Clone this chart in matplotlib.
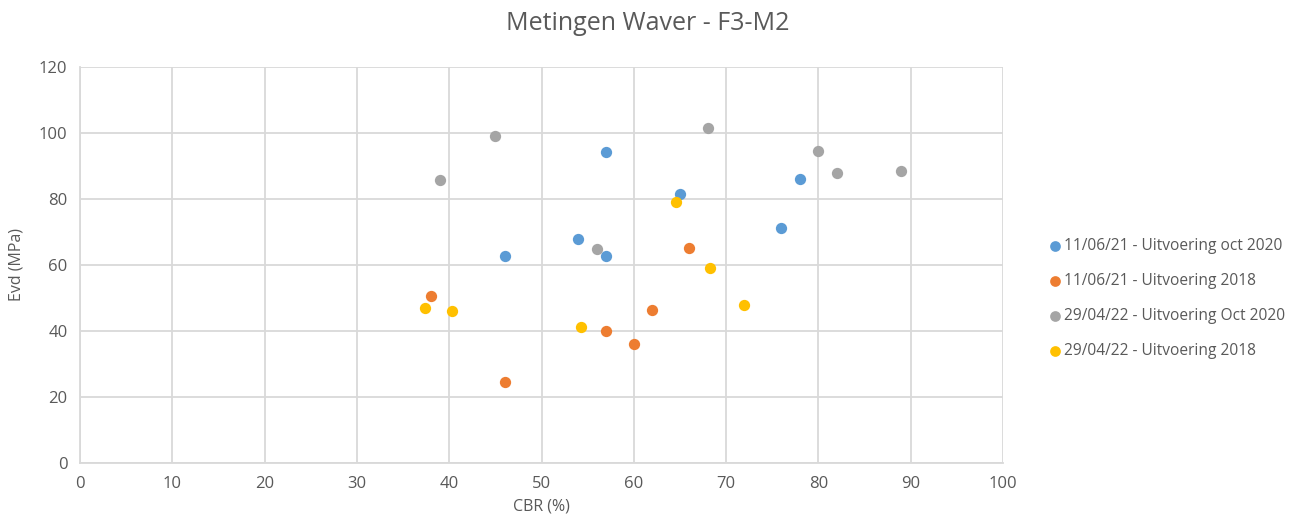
import matplotlib
matplotlib.use("Agg")
import matplotlib.pyplot as plt

plt.rcParams['font.family'] = ['Open Sans', 'DejaVu Sans']

title = "Metingen Waver - F3-M2"
xlabel = "CBR (%)"
ylabel = "Evd (MPa)"

series_names = [
    "11/06/21 - Uitvoering oct 2020",
    "11/06/21 - Uitvoering 2018",
    "29/04/22 - Uitvoering Oct 2020",
    "29/04/22 - Uitvoering 2018",
]
colors = ["#5B9BD5", "#ED7D31", "#A5A5A5", "#FFC000"]

blue_x = [57, 65, 78, 76, 54, 57, 46]
blue_y = [94.2, 81.5, 86.0, 71.1, 67.9, 62.7, 62.7]

orange_x = [38, 66, 62, 57, 60, 46]
orange_y = [50.6, 65.2, 46.4, 40.0, 36.1, 24.5]

gray_x = [45, 68, 39, 80, 82, 89, 56]
gray_y = [99.1, 101.5, 85.8, 94.4, 87.8, 88.4, 64.8]

yellow_x = [64.6, 68.3, 71.9, 37.4, 40.3, 54.3]
yellow_y = [79.1, 59.0, 47.9, 47.1, 46.1, 41.2]

xs = [blue_x, orange_x, gray_x, yellow_x]
ys = [blue_y, orange_y, gray_y, yellow_y]

xticks = list(range(0, 101, 10))
yticks = list(range(0, 121, 20))

fig = plt.figure(figsize=(13.11, 5.27), dpi=100)
ax = fig.add_axes([80/1311, 1 - 463/527, (1003 - 80)/1311, (463 - 67)/527])

for name, c, x, y in zip(series_names, colors, xs, ys):
    ax.scatter(x, y, s=66, color=c, label=name, zorder=3, linewidths=0)

ax.set_xlim(0, 100)
ax.set_ylim(0, 120)
ax.set_xticks(xticks)
ax.set_yticks(yticks)
ax.grid(True, color="#D9D9D9", linewidth=1.3)
ax.set_axisbelow(True)
for s in ["top", "right"]:
    ax.spines[s].set_visible(False)
for s in ["left", "bottom"]:
    ax.spines[s].set_color("#D9D9D9")
    ax.spines[s].set_linewidth(1.3)
ax.tick_params(length=0, labelsize=12, colors="#595959", pad=9)

ax.set_xlabel(xlabel, fontsize=11.5, color="#595959", labelpad=5)
ax.set_ylabel(ylabel, fontsize=11.5, color="#595959", labelpad=10)
fig.text(648 / 1311, 1 - 24/527, title, fontsize=18, color="#595959",
         ha="center", va="center")

leg = ax.legend(loc="center left", bbox_to_anchor=(1.031, 0.415), frameon=False,
                fontsize=11.2, labelcolor="#595959", handletextpad=-0.2,
                handlelength=1.6, borderpad=0.2,
                labelspacing=1.22, markerscale=0.95)

fig.savefig("out.png", dpi=100, facecolor="white")
